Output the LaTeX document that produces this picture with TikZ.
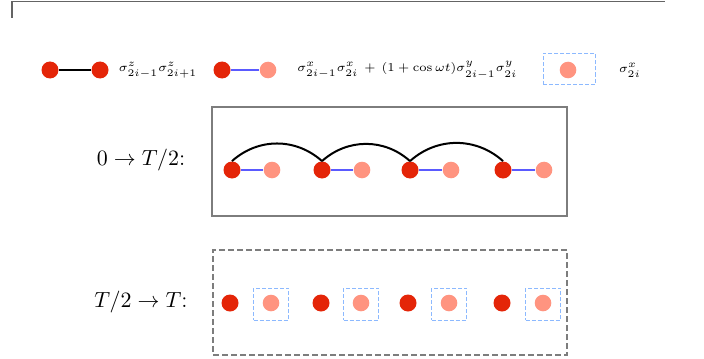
\documentclass[tikz,border=0pt]{standalone}
\usetikzlibrary{calc}
\definecolor{dred}{RGB}{228,37,8}
\definecolor{dpink}{RGB}{255,148,128}
\definecolor{lblue}{RGB}{90,90,255}
\definecolor{bxblue}{RGB}{140,185,255}
\definecolor{frgray}{RGB}{125,125,125}
\begin{document}
\begin{tikzpicture}[x=0.5pt,y=-0.5pt,
  reddot/.style={circle,fill=dred,inner sep=0pt,minimum size=8.5pt},
  pinkdot/.style={circle,fill=dpink,inner sep=0pt,minimum size=8.3pt},
  zzline/.style={black,line width=0.6pt},
  xyline/.style={lblue,line width=0.75pt},
  arcline/.style={black,line width=1pt},
  sbox/.style={draw=bxblue,dashed,dash pattern=on 2pt off 1pt,line width=0.5pt,inner sep=0pt,minimum width=17.5pt,minimum height=16pt},
  lgbox/.style={draw=bxblue,dashed,dash pattern=on 2pt off 1pt,line width=0.5pt,inner sep=0pt,minimum width=26pt,minimum height=15.5pt},
  panel/.style={draw=frgray,line width=0.7pt},
  lgtext/.style={font=\fontsize{6.5}{8}\selectfont,inner sep=0pt},
  lab/.style={font=\fontsize{11.3}{13}\selectfont,inner sep=0pt}]
\useasboundingbox (0,0) rectangle (704,358);
% top partial frame
\draw[draw=frgray!80!black,line width=0.8pt] (12,18) -- (12,1.5) -- (665,1.5);
% legend
\node[reddot] (l1) at (50,70) {};
\node[reddot] (l2) at (100,70) {};
\draw[zzline] (l1) -- (l2);
\node[lgtext] (t1) at (158,70) {$\sigma^z_{2i-1}\sigma^z_{2i+1}$};
\node[reddot] (l3) at (222,70) {};
\node[pinkdot] (l4) at (268,70) {};
\draw[xyline] (l3) -- (l4);
\node[lgtext,anchor=west] (t2) at (297,70) {$\sigma^x_{2i-1}\sigma^x_{2i}\,+\,(1+\cos\omega t)\sigma^y_{2i-1}\sigma^y_{2i}$};
\node[lgbox] (lb) at (569,69) {};
\node[pinkdot] (l5) at (568,70) {};
\node[lgtext] (t3) at (630,70) {$\sigma^x_{2i}$};
% upper panel
\node[panel,minimum width=177.5pt,minimum height=54.5pt,inner sep=0pt] (p1) at (389.5,161.5) {};
\node[lab] (lab1) at (141,160) {$0\rightarrow T/2$:};
\foreach \i/\rx/\px in {1/232/272,2/322/362,3/410/451,4/503/544}{
  \node[reddot] (a\i) at (\rx,170) {};
  \node[pinkdot] (b\i) at (\px,170) {};
  \draw[xyline] (a\i) -- (b\i);
}
\draw[arcline] (a1.north) to[bend left=42] (a2.north);
\draw[arcline] (a2.north) to[bend left=42] (a3.north);
\draw[arcline] (a3.north) to[bend left=42] (a4.north);
% lower panel
\node[panel,dashed,dash pattern=on 3pt off 1.5pt,minimum width=177pt,minimum height=52.5pt,inner sep=0pt] (p2) at (390,302.5) {};
\node[lab] (lab2) at (141,302) {$T/2\rightarrow T$:};
\foreach \i/\rx/\px in {1/230/271,2/321/361,3/408/449,4/502/543}{
  \node[reddot] (c\i) at (\rx,303) {};
  \node[pinkdot] (d\i) at (\px,303) {};
  \node[sbox] (s\i) at (\px,304) {};
}
\end{tikzpicture}
\end{document}
